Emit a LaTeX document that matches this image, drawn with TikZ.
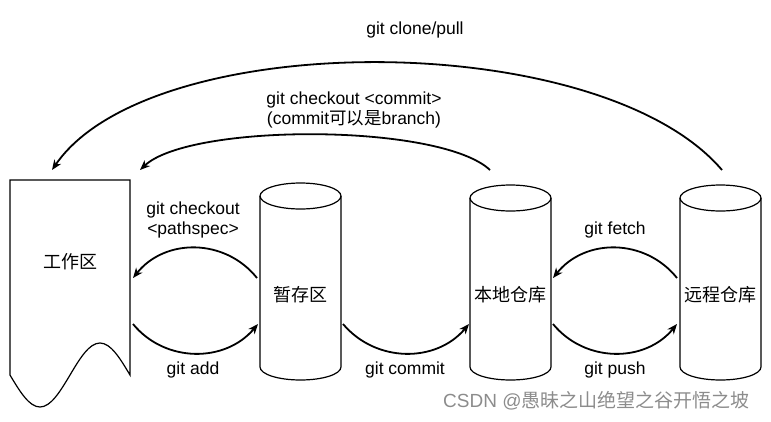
\documentclass[tikz,border=0pt]{standalone}
\usepackage{fontspec}
\setmainfont{Liberation Sans}
\newfontfamily\cjk{Noto Sans CJK SC}
\usetikzlibrary{arrows.meta}
\tikzset{
  shapeline/.style={line width=1.2pt, draw=black},
  conn/.style={line width=1.8pt, -{Stealth[length=10pt,width=8pt,inset=3pt]}},
  lbl/.style={font=\fontsize{17.5}{20}\selectfont, align=center, inner sep=0pt},
  zh/.style={font=\fontsize{18}{20}\selectfont\cjk, inner sep=0pt},
  wm/.style={font=\fontsize{19}{22}\selectfont, text=black!45, inner sep=0pt}
}
\begin{document}
\begin{tikzpicture}[x=1pt,y=-1pt]
\useasboundingbox (0,0) rectangle (771,421);
% working directory (document shape)
\draw[shapeline] (10,375) -- (10,180) -- (130,180) -- (130,375)
  sin (100,343) cos (70,375) sin (40,407) cos (10,375);
\node[zh] (work) at (70,262) {工作区};
% cylinders
\foreach \nm/\a/\b/\t/\bt in {stage/260/341/183/380, local/470/551/185/380, remote/680/761/185/380}{
  \pgfmathsetmacro{\cx}{(\a+\b)/2}
  \pgfmathsetmacro{\rx}{(\b-\a)/2}
  \draw[shapeline] (\cx,\t+13) ellipse [x radius=\rx pt, y radius=13pt];
  \draw[shapeline] (\a,\t+13) -- (\a,\bt-13) arc [start angle=180, end angle=360, x radius=\rx pt, y radius=13pt] -- (\b,\t+13);
}
\node[zh] (stagetxt) at (300.5,295) {暂存区};
\node[zh] (localtxt) at (510.5,295) {本地仓库};
\node[zh] (remotetxt) at (720.5,295) {远程仓库};
% connector end points
\coordinate (wR1) at (133,278);
\coordinate (wR2) at (133,324);
\coordinate (sL1) at (257,278);
\coordinate (sL2) at (258,324);
\coordinate (sR2) at (343,324);
\coordinate (lL2) at (469,324);
\coordinate (lR1) at (553,278);
\coordinate (lR2) at (553,324);
\coordinate (rL1) at (677,278);
\coordinate (rL2) at (677,324);
\coordinate (lTop) at (490,170);
\coordinate (rTop) at (722,170);
\coordinate (wTop1) at (140,170);
\coordinate (wTop2) at (52,170);
% connectors
\draw[conn] (sL1) .. controls (225,238) and (165,238) .. (wR1);
\draw[conn] (wR2) .. controls (165,363) and (225,363) .. (sL2);
\draw[conn] (sR2) .. controls (376,363) and (436,363) .. (lL2);
\draw[conn] (rL1) .. controls (645,238) and (585,238) .. (lR1);
\draw[conn] (lR2) .. controls (585,363) and (645,363) .. (rL2);
\draw[conn] (lTop) .. controls (440,123) and (190,123) .. (wTop1);
\draw[conn] (rTop) .. controls (600,27) and (150,27) .. (wTop2);
% labels
\node[lbl] (l1) at (415,30) {git clone/pull};
\node[lbl] (l2) at (354,110) {git checkout <commit>\\(commit{\cjk 可以是}branch)};
\node[lbl] (l3) at (193,220) {git checkout\\<pathspec>};
\node[lbl] (l4) at (193,370) {git add};
\node[lbl] (l5) at (405,370) {git commit};
\node[lbl] (l6) at (615,230) {git fetch};
\node[lbl] (l7) at (615,370) {git push};
\node[wm, anchor=west] (wmk) at (443,401) {CSDN @{\cjk 愚昧之山绝望之谷开悟之坡}};
\end{tikzpicture}
\end{document}
